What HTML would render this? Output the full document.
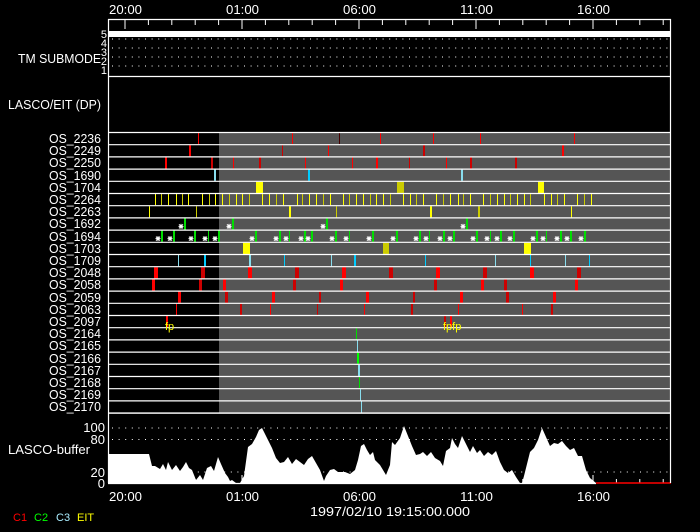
<!DOCTYPE html>
<html><head><meta charset="utf-8">
<style>
html,body{margin:0;padding:0;background:#000;}
svg{display:block;}
text{font-family:"Liberation Sans",sans-serif;fill:#fff;}
</style></head>
<body>
<svg id="s" width="700" height="532" viewBox="0 0 700 532" xmlns="http://www.w3.org/2000/svg">
<rect width="700" height="532" fill="#000"/>
<rect x="219" y="132" width="452" height="281" fill="#555"/>
<rect x="109" y="31" width="562" height="6" fill="#fff"/>
<g id="dyn"></g>
<polygon fill="#fff" points="108,483 108,454 149,454 152,466 155,466 160,469 163,464 166,470 168,462 172,470 176,465 180,471 183,467 186,462 189,468 192,470 196,480 200,475 203,480 207,468 211,466 214,471 218,457 221,464 225,473 228,477 230,481 232,480 236,483 240,483 244,476 248,447 252,444 256,437 259,430 262,428 264,432 268,440 272,448 276,458 280,463 284,462 288,457 292,464 296,459 300,462 304,465 308,459 312,456 316,463 320,470 324,481 326,476 330,470 334,469 338,472 340,472 345,472 350,474 355,470 358,460 361,446 364,444 367,450 370,455 373,452 375,460 380,465 383,470 386,475 390,465 392,442 395,445 400,438 404,426 408,436 412,446 416,455 420,454 423,452 427,456 431,452 435,458 440,461 443,466 446,451 450,448 452,438 455,444 458,448 462,436 466,444 470,452 473,446 477,453 480,450 484,456 488,452 492,455 496,451 500,462 504,470 508,473 512,470 516,477 520,483 522,483 524,476 530,452 534,448 538,440 542,428 546,437 550,446 554,443 558,444 562,441 566,446 570,450 574,448 578,456 582,456 586,470 590,478 596,483"/>
<line x1="596" y1="483" x2="671" y2="483" stroke="#f00" stroke-width="1.5"/>
<g stroke="#fff" stroke-width="1.2" fill="none">
<line x1="108.5" y1="19" x2="108.5" y2="483"/>
<line x1="670.5" y1="19" x2="670.5" y2="483"/>
<line x1="108" y1="19.5" x2="671" y2="19.5"/>
<line x1="108" y1="76.5" x2="671" y2="76.5"/>
<line x1="108" y1="413" x2="671" y2="413"/>
<line x1="108" y1="483.5" x2="596" y2="483.5"/>
</g>
<g font-size="13">
<text x="109" y="14" textLength="33" lengthAdjust="spacingAndGlyphs">20:00</text>
<text x="226" y="14" textLength="33" lengthAdjust="spacingAndGlyphs">01:00</text>
<text x="343" y="14" textLength="33" lengthAdjust="spacingAndGlyphs">06:00</text>
<text x="460" y="14" textLength="33" lengthAdjust="spacingAndGlyphs">11:00</text>
<text x="577" y="14" textLength="33" lengthAdjust="spacingAndGlyphs">16:00</text>
<text x="109" y="501" textLength="33" lengthAdjust="spacingAndGlyphs">20:00</text>
<text x="226" y="501" textLength="33" lengthAdjust="spacingAndGlyphs">01:00</text>
<text x="343" y="501" textLength="33" lengthAdjust="spacingAndGlyphs">06:00</text>
<text x="460" y="501" textLength="33" lengthAdjust="spacingAndGlyphs">11:00</text>
<text x="577" y="501" textLength="33" lengthAdjust="spacingAndGlyphs">16:00</text>
<text x="310" y="516" textLength="160" lengthAdjust="spacingAndGlyphs">1997/02/10 19:15:00.000</text>
<text x="18" y="63" textLength="83" lengthAdjust="spacingAndGlyphs">TM SUBMODE</text>
<text x="8" y="109" textLength="93" lengthAdjust="spacingAndGlyphs">LASCO/EIT (DP)</text>
<text x="8" y="454" textLength="82" lengthAdjust="spacingAndGlyphs">LASCO-buffer</text>
<text x="105" y="432" text-anchor="end">100</text>
<text x="105" y="444" text-anchor="end">80</text>
<text x="105" y="477" text-anchor="end">20</text>
<text x="105" y="488" text-anchor="end">0</text>
</g>
<g font-size="11" text-anchor="end">
<text x="107" y="38">5</text>
<text x="107" y="47">4</text>
<text x="107" y="56">3</text>
<text x="107" y="65">2</text>
<text x="107" y="74">1</text>
</g>
<g font-size="12.5">
<text x="49" y="143" textLength="52" lengthAdjust="spacingAndGlyphs">OS_2236</text>
<text x="49" y="155" textLength="52" lengthAdjust="spacingAndGlyphs">OS_2249</text>
<text x="49" y="167" textLength="52" lengthAdjust="spacingAndGlyphs">OS_2250</text>
<text x="49" y="180" textLength="52" lengthAdjust="spacingAndGlyphs">OS_1690</text>
<text x="49" y="192" textLength="52" lengthAdjust="spacingAndGlyphs">OS_1704</text>
<text x="49" y="204" textLength="52" lengthAdjust="spacingAndGlyphs">OS_2264</text>
<text x="49" y="216" textLength="52" lengthAdjust="spacingAndGlyphs">OS_2263</text>
<text x="49" y="228" textLength="52" lengthAdjust="spacingAndGlyphs">OS_1692</text>
<text x="49" y="241" textLength="52" lengthAdjust="spacingAndGlyphs">OS_1694</text>
<text x="49" y="253" textLength="52" lengthAdjust="spacingAndGlyphs">OS_1703</text>
<text x="49" y="265" textLength="52" lengthAdjust="spacingAndGlyphs">OS_1709</text>
<text x="49" y="277" textLength="52" lengthAdjust="spacingAndGlyphs">OS_2048</text>
<text x="49" y="289" textLength="52" lengthAdjust="spacingAndGlyphs">OS_2058</text>
<text x="49" y="302" textLength="52" lengthAdjust="spacingAndGlyphs">OS_2059</text>
<text x="49" y="314" textLength="52" lengthAdjust="spacingAndGlyphs">OS_2063</text>
<text x="49" y="326" textLength="52" lengthAdjust="spacingAndGlyphs">OS_2097</text>
<text x="49" y="338" textLength="52" lengthAdjust="spacingAndGlyphs">OS_2164</text>
<text x="49" y="350" textLength="52" lengthAdjust="spacingAndGlyphs">OS_2165</text>
<text x="49" y="363" textLength="52" lengthAdjust="spacingAndGlyphs">OS_2166</text>
<text x="49" y="375" textLength="52" lengthAdjust="spacingAndGlyphs">OS_2167</text>
<text x="49" y="387" textLength="52" lengthAdjust="spacingAndGlyphs">OS_2168</text>
<text x="49" y="399" textLength="52" lengthAdjust="spacingAndGlyphs">OS_2169</text>
<text x="49" y="411" textLength="52" lengthAdjust="spacingAndGlyphs">OS_2170</text>
</g>
<g font-size="11">
<text x="165" y="330" style="fill:#ff0">fp</text>
<text x="443" y="330" style="fill:#ff0">fpfp</text>
<text x="13" y="521" style="fill:#f00">C1</text>
<text x="34" y="521" style="fill:#0f0">C2</text>
<text x="56" y="521" style="fill:#aef">C3</text>
<text x="77" y="521" style="fill:#ff0">EIT</text>
</g>
<script>
(function(){
var g=document.getElementById('dyn'),NS='http://www.w3.org/2000/svg';
function r(x,y,w,h,c){var e=document.createElementNS(NS,'rect');e.setAttribute('x',x);e.setAttribute('y',y);e.setAttribute('width',w);e.setAttribute('height',h);e.setAttribute('fill',c);g.appendChild(e);}
function ln(x1,y1,x2,y2,c,w,d){var e=document.createElementNS(NS,'line');e.setAttribute('x1',x1);e.setAttribute('y1',y1);e.setAttribute('x2',x2);e.setAttribute('y2',y2);e.setAttribute('stroke',c);e.setAttribute('stroke-width',w||1);if(d)e.setAttribute('stroke-dasharray',d);g.appendChild(e);}
var R='#f00',D='#c00',Y='#ff0',O='#cc0',G='#0d0',C='#0cf',L='#8de';
var top=132,h=12.2;
function rt(i){return top+i*h;}
var rows={
0:[[198,1,R],[292,1,R],[339,1,'#400'],[380,1,R],[433,1,R],[480,1,R],[574,1,R]],
1:[[189,2,R],[282,1,D],[328,1,R],[423,2,D],[562,2,R]],
2:[[165,2,R],[211,2,D],[233,1,R],[259,2,D],[305,1,R],[352,1,R],[376,2,R],[409,1,D],[446,1,R],[470,2,D],[515,2,D]],
3:[[214,2,L],[308,2,C],[461,2,L]],
4:[[256,7,Y],[397,7,O],[538,6,Y]],
6:[[149,1,Y],[196,1,O],[289,2,Y],[336,1,O],[430,2,Y],[478,2,O],[571,1,Y]],
9:[[243,7,Y],[383,6,O],[524,7,Y]],
10:[[178,1,L],[204,2,C],[249,2,L],[284,1,C],[331,1,L],[354,2,C],[425,1,C],[495,1,L],[530,1,C],[565,1,L],[589,1,C]],
11:[[154,4,R],[201,4,D],[248,4,R],[295,4,D],[342,4,R],[389,4,D],[436,4,R],[483,4,D],[530,4,R],[577,4,D]],
12:[[152,3,R],[199,3,D],[223,3,R],[293,3,D],[340,3,R],[434,3,D],[481,3,R],[504,3,D],[575,3,R]],
13:[[178,3,R],[225,3,D],[272,3,R],[319,2,D],[366,3,R],[413,2,D],[460,3,R],[506,3,D],[553,3,R]],
14:[[176,1,R],[240,2,D],[270,1,R],[317,1,D],[364,1,R],[411,2,D],[458,1,R],[522,1,R],[551,2,D]],
15:[[166,2,R],[444,2,D],[450,2,R]],
16:[[356,1,G]],17:[[357,1,L]],18:[[357,2,'#0f0']],19:[[358,2,L]],20:[[359,1,G]],21:[[360,1,L]],22:[[361,1,L]]
};
var y5=[155,161,168,176,182,188,202,209,215,222,229,236,242,249,262,269,276,283,297,302,309,316,323,330,343,349,356,363,370,376,383,390,403,410,416,423,436,443,450,458,463,470,483,490,497,504,510,517,524,530,544,551,557,564,577,584,591];
rows[5]=y5.map(function(x,i){return [x,1,(i%3==1)?O:Y];});
var g7=[184,232,326,466];
rows[7]=g7.map(function(x){return [x,2,G];});
var g8=[161,173,194,208,218,255,279,289,304,311,335,349,372,396,419,429,443,453,476,490,500,513,536,546,560,570,584];
rows[8]=g8.map(function(x,i){return [x,(i%4==3)?1:2,G];});
for(var i in rows){var y=rt(+i);rows[i].forEach(function(b){r(b[0],y+1,b[1],h-1,b[2]);});}
function ast(cx,cy){ln(cx-2.5,cy,cx+2.5,cy,'#fff',1);ln(cx-2,cy-2,cx+2,cy+2,'#fff',1);ln(cx-2,cy+2,cx+2,cy-2,'#fff',1);ln(cx,cy-2.5,cx,cy+2.5,'#fff',1);}
g7.forEach(function(x){ast(x-3,rt(7)+9);});
g8.forEach(function(x){ast(x-3,rt(8)+9);});
for(var k=0;k<=23;k++){ln(108,rt(k)+0.5,671,rt(k)+0.5,'#fff',1.2);}
[39,48,57,66].forEach(function(y){ln(112,y,670,y,'#fff',1,'1 5.6');});
[428,439.5,472].forEach(function(y){ln(112,y,670,y,'#fff',1,'1 5.6');});
for(var t=0;t<24;t++){var x=125+23.4*t;if(x>670)break;var maj=(t%5==0);ln(x,19,x,maj?29:25,'#fff',1);ln(x,483,x,maj?475:479,'#fff',1);}
})();
</script>
</svg>
</body></html>
